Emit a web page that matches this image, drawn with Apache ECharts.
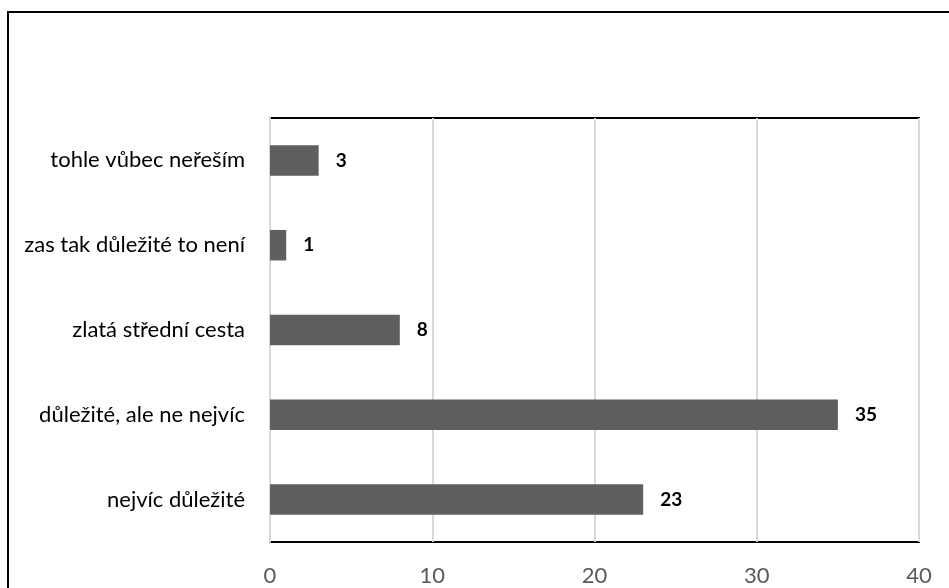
<!DOCTYPE html>
<html><head><meta charset="utf-8">
<script src="https://cdn.jsdelivr.net/npm/echarts@6/dist/echarts.min.js"></script>
<style>html,body{margin:0;padding:0;background:#fff}#c{width:949px;height:588px}</style>
</head><body><div id="c"></div>
<script>
const categories = ['nejvíc důležité','důležité, ale ne nejvíc','zlatá střední cesta','zas tak důležité to není','tohle vůbec neřeším'];
const values = [23, 35, 8, 1, 3];
const xTicks = [0, 10, 20, 30, 40];

const chart = echarts.init(document.getElementById('c'));
chart.setOption({
  animation: false,
  backgroundColor: '#fff',
  textStyle: {fontFamily: 'Lato'},
  graphic: [{type:'rect', shape:{x:8,y:12,width:1200,height:1200}, style:{fill:'none', stroke:'#000', lineWidth:2}, silent:true}],
  grid: {left:270, right:30, top:118, bottom:46, show:true, borderColor:'#000', borderWidth:2, containLabel:false},
  xAxis: {type:'value', min:xTicks[0], max:xTicks[xTicks.length-1], interval:10,
    axisLine:{show:false}, axisTick:{show:false},
    axisLabel:{color:'#595959', fontSize:22, margin:23, fontFamily:'Lato'},
    splitLine:{show:true, lineStyle:{color:'#d9d9d9', width:2}}},
  yAxis: {type:'category', data:categories,
    axisLine:{show:true, lineStyle:{color:'#d9d9d9', width:2}}, axisTick:{show:false},
    axisLabel:{color:'#000', fontSize:22, margin:25, fontFamily:'Lato'}},
  series: [{type:'bar', data:values, barCategoryGap:'64%', itemStyle:{color:'#5f5f5f'},
    label:{show:true, position:'right', distance:17, color:'#000', fontWeight:'bold', fontSize:19, fontFamily:'Lato'}}]
});
</script></body></html>
